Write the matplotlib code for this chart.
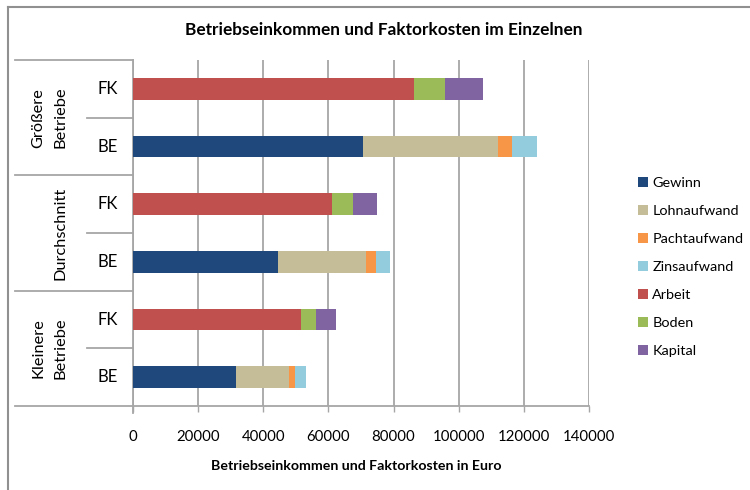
import numpy as np
import matplotlib.pyplot as plt
from matplotlib.lines import Line2D
from matplotlib.transforms import blended_transform_factory

plt.rcParams['font.family'] = ['Lato', 'DejaVu Sans']

# ---- data (Kleinere, Durchschnitt, Größere) ----
groups = ["Kleinere\nBetriebe", "Durchschnitt", "Größere\nBetriebe"]
rows = ["BE", "FK"]

gewinn = [31600, 44400, 70700]
lohnaufwand = [16400, 27200, 41400]
pachtaufwand = [1800, 3100, 4300]
zinsaufwand = [3200, 4300, 7600]
arbeit = [51500, 61100, 86400]
boden = [4600, 6400, 9300]
kapital = [6100, 7500, 11800]

be_series = [("Gewinn", gewinn, "#1F497D"),
             ("Lohnaufwand", lohnaufwand, "#C4BD97"),
             ("Pachtaufwand", pachtaufwand, "#F79646"),
             ("Zinsaufwand", zinsaufwand, "#93CDDD")]
fk_series = [("Arbeit", arbeit, "#C0504D"),
             ("Boden", boden, "#9BBB59"),
             ("Kapital", kapital, "#8064A2")]

W, H = 750, 490
fig = plt.figure(figsize=(W / 100, H / 100), dpi=100)
x0, x1, y0, y1 = 133, 589, 60, 406
ax = fig.add_axes([x0 / W, 1 - y1 / H, (x1 - x0) / W, (y1 - y0) / H])

grey = "#a6a6a6"
n = len(groups)
be_pos = np.arange(n) * 2
fk_pos = be_pos + 1
bh = 0.38

left = np.zeros(n)
for name, vals, col in be_series:
    ax.barh(be_pos, vals, left=left, height=bh, color=col, label=name, zorder=3)
    left += np.array(vals)
left = np.zeros(n)
for name, vals, col in fk_series:
    ax.barh(fk_pos, vals, left=left, height=bh, color=col, label=name, zorder=3)
    left += np.array(vals)

ax.set_xlim(0, 140000)
ax.set_ylim(-0.5, 2 * n - 0.5)
ax.set_xticks(np.arange(0, 140001, 20000))
ax.xaxis.grid(True, color=grey, linewidth=1.3, zorder=0)
ax.tick_params(axis="x", direction="out", length=4.5, width=1, color=grey,
               pad=13, labelsize=10.8, labelcolor="black")
ax.set_yticks([])
for s in ["top", "right"]:
    ax.spines[s].set_visible(False)
for s in ["left", "bottom"]:
    ax.spines[s].set_color(grey)
    ax.spines[s].set_linewidth(1.3)

# ---- multi-level category axis ----
tr = blended_transform_factory(ax.transAxes, ax.transData)
sub_x = (87 - x0) / (x1 - x0)
grp_x = (15 - x0) / (x1 - x0)
for g in range(n + 1):
    ax.plot([grp_x, 0], [2 * g - 0.5] * 2, color=grey, lw=1.3,
            transform=tr, clip_on=False)
ax.plot([0, 0], [-0.5, -0.62], color=grey, lw=1.3, transform=tr, clip_on=False)
for g in range(n):
    ax.plot([sub_x, 0], [2 * g + 0.5] * 2, color=grey, lw=1.3,
            transform=tr, clip_on=False)
    for j, lab in enumerate(rows):
        ax.text((108 - x0) / (x1 - x0), 2 * g + j, lab, transform=tr,
                ha="center", va="center", fontsize=12)
    ax.text((67 - x0) / (x1 - x0), 2 * g + 0.5, groups[g], transform=tr,
            ha="right", va="center", rotation=90, fontsize=11.8,
            multialignment="center", linespacing=1.7)

# ---- texts ----
fig.text(384 / W, 1 - 30 / H, "Betriebseinkommen und Faktorkosten im Einzelnen",
         ha="center", va="center", fontsize=12.4, fontweight="bold")
fig.text(356 / W, 1 - 466 / H, "Betriebseinkommen und Faktorkosten in Euro",
         ha="center", va="center", fontsize=10.2, fontweight="bold")

ax.legend(loc="upper left", bbox_to_anchor=(638 / W, 1 - 177 / H),
          bbox_transform=fig.transFigure, frameon=False, fontsize=10.4,
          handlelength=0.7, handleheight=0.7, handletextpad=0.3,
          labelspacing=1.1, borderaxespad=0, borderpad=0)

# chart border
fig.add_artist(Line2D([8 / W, 8 / W], [0, 1 - 7 / H], color="#909090",
                      lw=1.5, transform=fig.transFigure))
fig.add_artist(Line2D([8 / W, 1], [1 - 7 / H, 1 - 7 / H], color="#909090",
                      lw=1.5, transform=fig.transFigure))

fig.savefig("out.png", dpi=100)
